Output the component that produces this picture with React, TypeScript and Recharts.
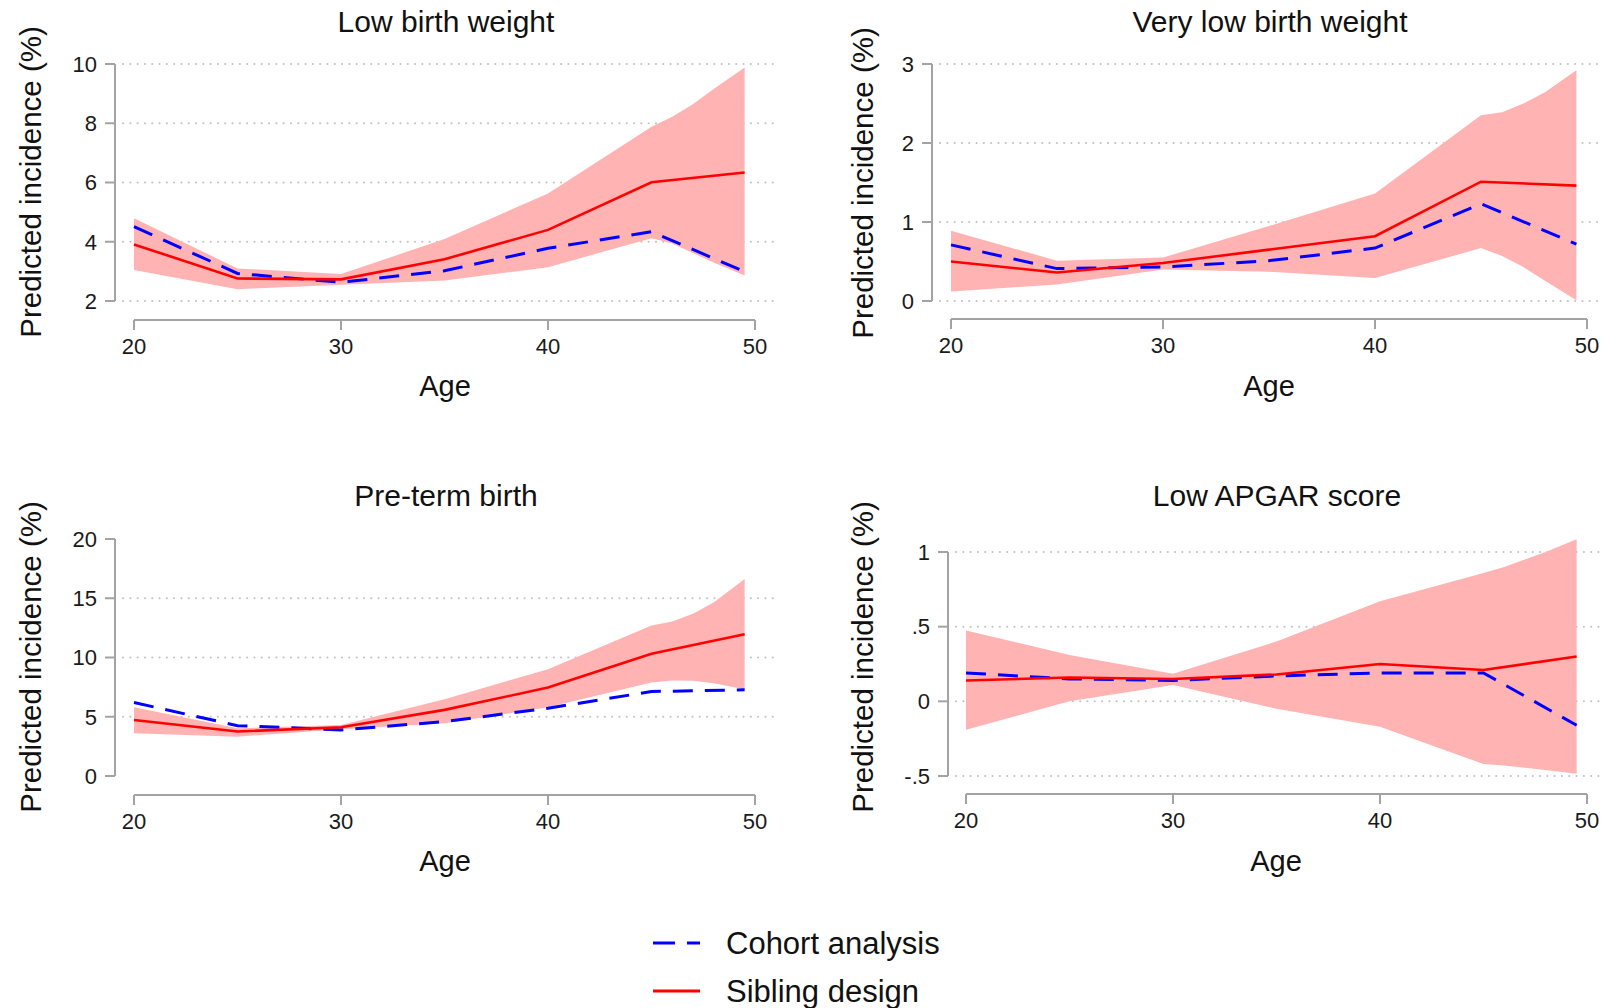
import { ComposedChart, Area, Line, XAxis, YAxis, ReferenceLine, CartesianGrid } from "recharts";

// ages at which estimates are plotted (46-48 only shape the confidence band)
const AGES = [20, 25, 30, 35, 40, 45, 46, 47, 48, 49.5];
const X_TICKS = [20, 30, 40, 50];

// Low birth weight
const lbwCohort = [4.51, 2.93, 2.63, 3.02, 3.78, 4.34, null, null, null, 2.99];
const lbwSibling = [3.91, 2.76, 2.73, 3.41, 4.4, 6.01, null, null, null, 6.34];
const lbwLow = [3.05, 2.4, 2.55, 2.69, 3.14, 4.12, 3.94, 3.62, 3.3, 2.86];
const lbwHigh = [4.79, 3.1, 2.91, 4.09, 5.63, 7.88, 8.22, 8.64, 9.16, 9.88];

// Very low birth weight
const vlbwCohort = [0.71, 0.41, 0.43, 0.51, 0.67, 1.23, null, null, null, 0.72];
const vlbwSibling = [0.5, 0.36, 0.48, 0.65, 0.82, 1.51, null, null, null, 1.46];
const vlbwLow = [0.12, 0.21, 0.4, 0.37, 0.29, 0.67, 0.57, 0.43, 0.26, 0.01];
const vlbwHigh = [0.89, 0.51, 0.55, 0.95, 1.36, 2.35, 2.39, 2.5, 2.64, 2.92];

// Pre-term birth
const ptbCohort = [6.2, 4.25, 3.89, 4.59, 5.72, 7.13, null, null, null, 7.27];
const ptbSibling = [4.73, 3.75, 4.11, 5.58, 7.46, 10.31, null, null, null, 11.97];
const ptbLow = [3.61, 3.32, 3.94, 4.45, 5.8, 7.89, 8.06, 8.03, 7.83, 7.32];
const ptbHigh = [5.8, 4.03, 4.31, 6.48, 9.01, 12.7, 13.04, 13.69, 14.65, 16.62];

// Low APGAR score
const apgCohort = [0.19, 0.15, 0.14, 0.17, 0.19, 0.19, null, null, null, -0.16];
const apgSibling = [0.14, 0.16, 0.15, 0.18, 0.25, 0.21, null, null, null, 0.3];
const apgLow = [-0.19, 0.0, 0.11, -0.05, -0.17, -0.42, -0.43, -0.445, -0.46, -0.485];
const apgHigh = [0.475, 0.31, 0.185, 0.4, 0.67, 0.86, 0.9, 0.95, 1.0, 1.085];

const TITLES = ["Low birth weight", "Very low birth weight", "Pre-term birth", "Low APGAR score"];
const Y_TITLE = "Predicted incidence (%)";
const X_TITLE = "Age";
const LEGEND = ["Cohort analysis", "Sibling design"];

const FONT = "Arial, 'Liberation Sans', Helvetica, sans-serif";
const AXIS_GRAY = "#a3a3a3";
const GRID_GRAY = "#c2c2c2";
const BAND = "#ffb3b3";
const RED = "#ff0000";
const BLUE = "#0000ff";
const W = 1610;
const H = 1008;
const YW = 80;
const XH = 40;

// pixel layout of each panel (axis positions in the page)
const LAYOUT = [
  { yAxisX: 115, x20: 134, x50: 755, gridStart: 123, gridRight: 777, yTopPx: 64, yBotPx: 301, xAxisY: 320, plotTop: 56, titleX: 446, titleY: 32, ageX: 445, ageY: 396, ylabX: 41, ylabY: 182 },
  { yAxisX: 932, x20: 951, x50: 1587, gridStart: 940, gridRight: 1602, yTopPx: 64, yBotPx: 301, xAxisY: 319, plotTop: 56, titleX: 1270, titleY: 32, ageX: 1269, ageY: 396, ylabX: 873, ylabY: 183 },
  { yAxisX: 115, x20: 134, x50: 755, gridStart: 123, gridRight: 777, yTopPx: 539, yBotPx: 776, xAxisY: 795, plotTop: 530, titleX: 446, titleY: 506, ageX: 445, ageY: 871, ylabX: 41, ylabY: 657 },
  { yAxisX: 948, x20: 966, x50: 1587, gridStart: 956, gridRight: 1602, yTopPx: 552, yBotPx: 776, xAxisY: 794, plotTop: 530, titleX: 1277, titleY: 506, ageX: 1276, ageY: 871, ylabX: 873, ylabY: 657 },
];

const PANELS = [
  { cohort: lbwCohort, sibling: lbwSibling, low: lbwLow, high: lbwHigh, yTicks: [2, 4, 6, 8, 10], yLabels: ["2", "4", "6", "8", "10"], grid: [2, 4, 6, 8, 10] },
  { cohort: vlbwCohort, sibling: vlbwSibling, low: vlbwLow, high: vlbwHigh, yTicks: [0, 1, 2, 3], yLabels: ["0", "1", "2", "3"], grid: [0, 1, 2, 3] },
  { cohort: ptbCohort, sibling: ptbSibling, low: ptbLow, high: ptbHigh, yTicks: [0, 5, 10, 15, 20], yLabels: ["0", "5", "10", "15", "20"], grid: [5, 10, 15] },
  { cohort: apgCohort, sibling: apgSibling, low: apgLow, high: apgHigh, yTicks: [-0.5, 0, 0.5, 1], yLabels: ["-.5", "0", ".5", "1"], grid: [-0.5, 0, 0.5, 1] },
];

function Panel({ p, L }) {
  const vTop = p.yTicks[p.yTicks.length - 1];
  const vBot = p.yTicks[0];
  const sx = (L.x50 - L.x20) / 30;
  const xMin = 20 - (L.x20 - L.yAxisX) / sx;
  const xMax = 50 + (L.gridRight - L.x50) / sx;
  const sy = (L.yBotPx - L.yTopPx) / (vTop - vBot);
  const yMax = vTop + (L.yTopPx - L.plotTop) / sy;
  const yMin = vBot - (L.xAxisY - L.yBotPx) / sy;

  const data = AGES.map((age, i) => ({
    age,
    cohort: p.cohort[i],
    sibling: p.sibling[i],
    band: [p.low[i], p.high[i]],
  }));

  const tickStyle = { fill: "#1a1a1a", fontSize: 22, fontFamily: FONT };

  return (
    <div style={{ position: "absolute", left: 0, top: 0 }}>
      <ComposedChart
        width={W}
        height={H}
        data={data}
        margin={{ top: L.plotTop, left: L.yAxisX - YW, right: W - L.gridRight, bottom: H - L.xAxisY - XH }}
      >
        <CartesianGrid
          vertical={false}
          horizontalValues={p.grid}
          x={L.gridStart}
          width={L.gridRight - L.gridStart}
          stroke={GRID_GRAY}
          strokeWidth={2}
          strokeDasharray="0.1 7.2"
          strokeLinecap="round"
        />
        <XAxis
          dataKey="age"
          type="number"
          domain={[xMin, xMax]}
          allowDataOverflow
          ticks={X_TICKS}
          interval={0}
          axisLine={false}
          tickLine={{ stroke: AXIS_GRAY, strokeWidth: 2 }}
          tickSize={10}
          tickMargin={8}
          height={XH}
          tick={tickStyle}
        />
        <YAxis
          type="number"
          domain={[yMin, yMax]}
          allowDataOverflow
          ticks={p.yTicks}
          interval={0}
          axisLine={false}
          tickLine={{ stroke: AXIS_GRAY, strokeWidth: 2 }}
          tickSize={10}
          tickMargin={8}
          width={YW}
          tick={tickStyle}
          tickFormatter={(v) => p.yLabels[p.yTicks.indexOf(v)] ?? String(v)}
        />
        <Area
          dataKey="band"
          type="linear"
          stroke="none"
          fill={BAND}
          fillOpacity={1}
          dot={false}
          activeDot={false}
          isAnimationActive={false}
        />
        <Line
          dataKey="cohort"
          type="linear"
          stroke={BLUE}
          strokeWidth={3}
          strokeDasharray="20 12"
          dot={false}
          activeDot={false}
          connectNulls
          isAnimationActive={false}
        />
        <Line
          dataKey="sibling"
          type="linear"
          stroke={RED}
          strokeWidth={2.6}
          dot={false}
          activeDot={false}
          connectNulls
          isAnimationActive={false}
        />
        <ReferenceLine
          segment={[{ x: xMin, y: vBot }, { x: xMin, y: vTop }]}
          stroke={AXIS_GRAY}
          strokeWidth={2}
          ifOverflow="visible"
        />
        <ReferenceLine
          segment={[{ x: 20, y: yMin }, { x: 50, y: yMin }]}
          stroke={AXIS_GRAY}
          strokeWidth={2}
          ifOverflow="visible"
        />
      </ComposedChart>
    </div>
  );
}

export default function App() {
  return (
    <div style={{ position: "absolute", left: 0, top: 0, width: W, height: H, background: "#fff", overflow: "hidden" }}>
      {PANELS.map((p, i) => (
        <Panel key={i} p={p} L={LAYOUT[i]} />
      ))}
      <svg width={W} height={H} style={{ position: "absolute", left: 0, top: 0, pointerEvents: "none" }} fontFamily={FONT}>
        {LAYOUT.map((L, i) => (
          <g key={i} fill="#111">
            <text x={L.titleX} y={L.titleY} textAnchor="middle" fontSize={30}>
              {TITLES[i]}
            </text>
            <text x={L.ageX} y={L.ageY} textAnchor="middle" fontSize={29}>
              {X_TITLE}
            </text>
            <text
              x={L.ylabX}
              y={L.ylabY}
              textAnchor="middle"
              fontSize={29.5}
              transform={`rotate(-90 ${L.ylabX} ${L.ylabY})`}
            >
              {Y_TITLE}
            </text>
          </g>
        ))}
        <line x1={653} x2={700} y1={943} y2={943} stroke={BLUE} strokeWidth={3} strokeDasharray="22 12" />
        <text x={726} y={954} fontSize={31} fill="#111">
          {LEGEND[0]}
        </text>
        <line x1={653} x2={700} y1={991} y2={991} stroke={RED} strokeWidth={3} />
        <text x={726} y={1002} fontSize={31} fill="#111">
          {LEGEND[1]}
        </text>
      </svg>
    </div>
  );
}
